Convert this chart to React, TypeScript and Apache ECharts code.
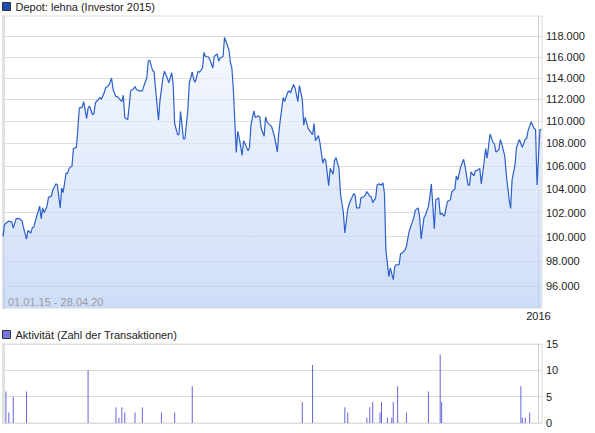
import React, { useEffect, useRef } from "react";
import * as echarts from "echarts";

// Day offset from 01.01.2015 and portfolio value (Depot: lehna)
const PRICE_DAYS = [
  0, 1, 4, 6, 7, 9, 11, 13, 14, 16, 17, 19, 20, 21, 23, 25, 26, 27, 28, 30,
  31, 33, 34, 36, 37, 39, 40, 41, 43, 44, 45, 47, 48, 50, 51, 52, 54, 55, 57, 58,
  59, 61, 62, 63, 65, 66, 67, 69, 70, 72, 73, 74, 75, 77, 78, 79, 81, 82, 83, 85,
  86, 87, 89, 90, 91, 93, 95, 96, 98, 99, 100, 102, 103, 104, 106, 107, 109, 110, 112, 113,
  115, 116, 117, 119, 120, 121, 123, 124, 126, 127, 129, 130, 131, 133, 134, 136, 137, 138, 140, 141,
  143, 144, 146, 147, 148, 150, 151, 152, 154, 155, 156, 157, 159, 160, 161, 163, 164, 165, 167, 168,
  169, 171, 172, 174, 175, 176, 178, 179, 180, 182, 183, 185, 187, 188, 189, 191, 192, 194, 195, 196,
  198, 199, 201, 202, 204, 205, 206, 208, 209, 211, 212, 213, 215, 216, 218, 219, 220, 222, 223, 225,
  226, 227, 229, 230, 232, 233, 235, 236, 237, 239, 240, 241, 243, 244, 246, 247, 248, 250, 251, 252,
  254, 255, 256, 258, 259, 260, 261, 263, 264, 266, 267, 268, 270, 271, 272, 274, 275, 276, 277, 279,
  280, 281, 283, 284, 285, 287, 288, 290, 291, 292, 294, 295, 297, 298, 299, 301, 302, 303, 305, 306,
  308, 309, 310, 312, 314, 315, 317, 318, 319, 321, 322, 323, 325, 326, 328, 329, 330, 332, 334, 335,
  336, 338, 339, 340, 342, 343, 345, 346, 347, 349, 350, 352, 353, 354, 356, 357, 358, 360, 362, 363,
  364, 366, 367,
];
const PRICE_VALUES = [
  100.0, 101.0, 101.3, 101.2, 100.7, 101.5, 101.5, 101.3, 100.75, 99.8, 100.5, 100.3, 100.75, 100.8, 101.7, 102.55, 101.5, 102.4, 102.0, 102.55,
  103.3, 103.4, 103.95, 104.45, 104.4, 102.4, 104.1, 103.7, 105.4, 105.35, 105.8, 106.0, 107.55, 107.65, 109.2, 111.2, 111.3, 111.8, 110.25, 111.2,
  111.4, 110.6, 110.7, 111.7, 112.0, 112.2, 112.0, 112.65, 113.1, 113.3, 113.6, 114.0, 112.95, 112.25, 112.3, 112.1, 111.8, 112.4, 110.35, 110.15,
  111.4, 112.8, 113.0, 113.2, 112.9, 112.8, 112.8, 113.25, 114.0, 115.6, 115.7, 114.7, 114.6, 112.95, 110.1, 111.9, 114.0, 114.65, 114.0, 113.55,
  114.5, 113.4, 109.8, 108.8, 108.8, 110.9, 108.4, 108.4, 111.05, 113.55, 114.55, 113.85, 113.6, 114.65, 114.55, 114.95, 116.45, 116.05, 116.0, 115.75,
  114.95, 116.05, 116.3, 115.6, 115.9, 116.05, 117.9, 117.5, 116.7, 115.5, 114.95, 112.95, 107.2, 109.1, 108.5, 106.95, 108.25, 107.95, 107.35, 107.65,
  109.65, 110.95, 110.35, 110.5, 110.4, 109.35, 108.65, 110.4, 109.95, 109.65, 109.55, 108.65, 107.25, 108.95, 110.1, 112.2, 111.8, 112.65, 112.8, 112.6,
  113.4, 113.1, 111.8, 113.3, 112.0, 109.65, 110.35, 109.35, 109.15, 108.8, 109.8, 108.25, 108.7, 108.1, 106.25, 106.65, 106.5, 104.3, 105.8, 105.3,
  106.5, 106.75, 105.8, 103.65, 102.0, 100.3, 102.3, 102.75, 103.05, 103.6, 103.5, 102.4, 102.4, 103.25, 103.35, 103.5, 103.8, 103.4, 103.35, 102.85,
  103.25, 104.35, 104.45, 104.35, 104.55, 103.65, 98.9, 96.75, 97.45, 96.5, 97.55, 97.7, 97.7, 98.6, 98.65, 98.9, 99.2, 99.9, 100.5, 101.2,
  101.6, 102.2, 102.4, 101.6, 99.8, 101.6, 101.8, 102.55, 103.4, 104.45, 100.65, 103.1, 103.25, 101.85, 101.95, 101.7, 102.4, 102.95, 103.1, 103.8,
  104.0, 105.15, 104.8, 105.95, 106.6, 105.95, 104.35, 104.35, 105.5, 105.15, 105.6, 105.6, 105.8, 104.45, 106.4, 107.55, 106.7, 108.85, 108.1, 107.95,
  107.25, 107.45, 108.35, 107.95, 106.9, 105.35, 103.1, 102.35, 104.8, 106.1, 107.65, 108.35, 108.0, 107.65, 108.4, 108.45, 109.2, 109.95, 109.35, 109.25,
  104.35, 109.25, 109.25,
];

// Activity (number of transactions)
const ACT_DAYS = [
  2, 4, 7, 16, 58, 77, 79, 81, 83, 90, 95, 108, 117, 129, 204, 211, 233, 235, 248, 250,
  252, 257, 258, 262, 265, 266, 269, 275, 290, 298, 299, 353, 354, 356, 359,
];
const ACT_COUNTS = [
  6, 2, 5, 6, 10, 3, 1, 3, 2, 2, 3, 2, 2, 7, 4, 11, 3, 2, 1, 3,
  4, 2, 4, 1, 1, 4, 7, 2, 6, 13, 4, 7, 1, 1, 2,
];

const PRICE_TICKS = [96, 98, 100, 102, 104, 106, 108, 110, 112, 114, 116, 118];
const PRICE_MIN = 94.27;
const PRICE_MAX = 120;
const ACT_TICKS = [0, 5, 10, 15];
const YEAR_DAYS = [365];
const YEAR_LABELS = ["2016"];
const DAY_MAX = 367.4;

const PRICE_NAME = "Depot: lehna (Investor 2015)";
const ACT_NAME = "Aktivität (Zahl der Transaktionen)";
const RANGE_TEXT = "01.01.15 - 28.04.20";

const FONT = "'Liberation Sans', Arial, Helvetica, sans-serif";

export default function App() {
  const ref = useRef<HTMLDivElement>(null);

  useEffect(() => {
    if (!ref.current) return;
    const chart = echarts.init(ref.current, undefined, { renderer: "svg" });
    const logTicks = PRICE_TICKS.map((v) => Math.log(v));
    const gridLine = { show: true, lineStyle: { color: "#dcdcdc", width: 1 } };

    chart.setOption({
      animation: false,
      backgroundColor: "#ffffff",
      textStyle: { fontFamily: FONT },
      legend: [
        {
          left: 2,
          top: 1,
          padding: 0,
          itemWidth: 8,
          itemHeight: 8,
          selectedMode: false,
          textStyle: { fontSize: 11, color: "#222", fontFamily: FONT },
          data: [
            {
              name: PRICE_NAME,
              icon: "rect",
              itemStyle: { color: "#1f4fb3", borderColor: "#333", borderWidth: 1 },
            },
          ],
        },
        {
          left: 2,
          top: 329,
          padding: 0,
          itemWidth: 8,
          itemHeight: 8,
          selectedMode: false,
          textStyle: { fontSize: 11, color: "#222", fontFamily: FONT },
          data: [
            {
              name: ACT_NAME,
              icon: "rect",
              itemStyle: { color: "#7676e2", borderColor: "#333", borderWidth: 1 },
            },
          ],
        },
      ],
      grid: [
        {
          left: 3,
          top: 16,
          width: 539,
          height: 292,
          containLabel: false,
          outerBoundsMode: "none",
          show: true,
          borderColor: "#dcdcdc",
          borderWidth: 1,
          backgroundColor: "transparent",
        },
        {
          left: 3,
          top: 344,
          width: 539,
          height: 79,
          containLabel: false,
          outerBoundsMode: "none",
          show: true,
          borderColor: "#dcdcdc",
          borderWidth: 1,
          backgroundColor: "transparent",
        },
      ],
      xAxis: [
        {
          gridIndex: 0,
          type: "value",
          min: 0,
          max: DAY_MAX,
          axisLine: { show: false },
          axisTick: { show: false, customValues: YEAR_DAYS },
          axisLabel: {
            customValues: YEAR_DAYS,
            formatter: (v: number) => YEAR_LABELS[YEAR_DAYS.indexOf(Math.round(v))] ?? "",
            fontSize: 11,
            color: "#222",
            margin: 2,
            fontFamily: FONT,
          },
          splitLine: { show: true, lineStyle: { color: "#cfcfcf", width: 1 } },
        },
        {
          gridIndex: 1,
          type: "value",
          min: 0,
          max: DAY_MAX,
          axisLine: { show: false },
          axisTick: { show: false, customValues: YEAR_DAYS },
          axisLabel: { show: false, customValues: YEAR_DAYS },
          splitLine: { show: true, lineStyle: { color: "#cfcfcf", width: 1 } },
        },
      ],
      yAxis: [
        {
          gridIndex: 0,
          type: "value",
          position: "right",
          min: Math.log(PRICE_MIN),
          max: Math.log(PRICE_MAX),
          axisLine: { show: true, lineStyle: { color: "#e0e0e0", width: 3 } },
          axisTick: { show: false, customValues: logTicks },
          axisLabel: {
            customValues: logTicks,
            formatter: (v: number) => Math.round(Math.exp(v)).toFixed(0) + ".000",
            fontSize: 11,
            color: "#222",
            margin: 4,
            fontFamily: FONT,
          },
          splitLine: gridLine,
        },
        {
          gridIndex: 1,
          type: "value",
          position: "right",
          min: 0,
          max: 15,
          axisLine: { show: true, lineStyle: { color: "#e0e0e0", width: 3 } },
          axisTick: { show: false, customValues: ACT_TICKS },
          axisLabel: {
            customValues: ACT_TICKS,
            fontSize: 11,
            color: "#222",
            margin: 4,
            fontFamily: FONT,
          },
          splitLine: gridLine,
        },
      ],
      graphic: [
        {
          type: "text",
          left: 8,
          top: 296,
          silent: true,
          style: { text: RANGE_TEXT, fill: "#9a9a9a", fontSize: 11, fontFamily: FONT },
          z: 100,
        },
      ],
      series: [
        {
          name: PRICE_NAME,
          type: "line",
          xAxisIndex: 0,
          yAxisIndex: 0,
          data: PRICE_DAYS.map((d, i) => [d, Math.log(PRICE_VALUES[i])]),
          showSymbol: false,
          symbol: "none",
          smooth: false,
          lineStyle: { color: "#2d60c8", width: 1.2 },
          itemStyle: { color: "#2d60c8" },
          areaStyle: {
            origin: "start",
            color: new echarts.graphic.LinearGradient(0, 0, 0, 1, [
              { offset: 0, color: "#f3f7fe" },
              { offset: 1, color: "#b9cff5" },
            ]),
          },
          z: 3,
        },
        {
          name: ACT_NAME,
          type: "bar",
          xAxisIndex: 1,
          yAxisIndex: 1,
          data: ACT_DAYS.map((d, i) => [d, ACT_COUNTS[i]]),
          barWidth: 1,
          itemStyle: { color: "#6565dd" },
          z: 3,
        },
      ],
    });

    return () => chart.dispose();
  }, []);

  return (
    <div
      ref={ref}
      style={{ position: "fixed", left: 0, top: 0, width: 595, height: 433, background: "#fff" }}
    />
  );
}
